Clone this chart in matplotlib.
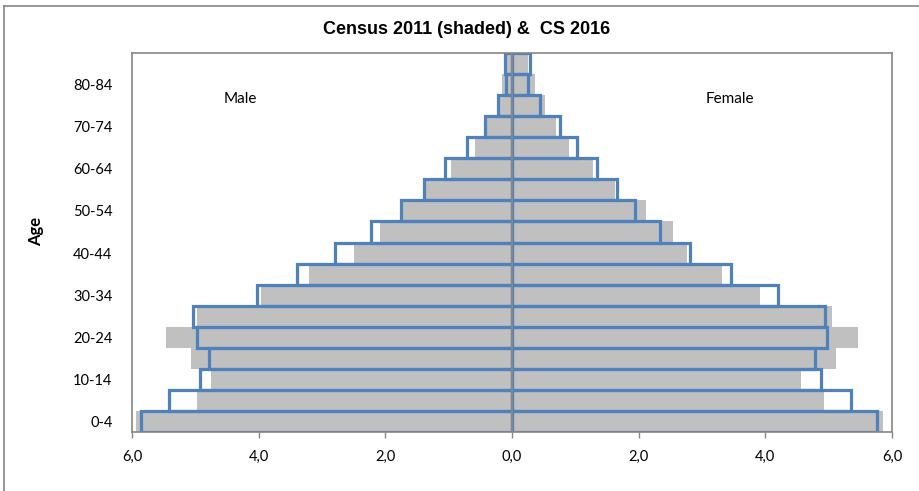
import matplotlib.pyplot as plt
import numpy as np
from matplotlib.lines import Line2D

ages = ['0-4', '5-9', '10-14', '15-19', '20-24', '25-29', '30-34', '35-39',
        '40-44', '45-49', '50-54', '55-59', '60-64', '65-69', '70-74',
        '75-79', '80-84', '85+']

# Census 2011 (shaded), percent of population
male_2011 = [5.93, 4.97, 4.75, 5.07, 5.46, 4.98, 3.97, 3.21, 2.49, 2.08,
             1.72, 1.35, 0.97, 0.58, 0.39, 0.20, 0.15, 0.08]
female_2011 = [5.86, 4.92, 4.57, 5.11, 5.47, 5.05, 3.91, 3.31, 2.76, 2.55,
               2.11, 1.62, 1.28, 0.90, 0.70, 0.52, 0.37, 0.25]

# CS 2016 (outlined)
male_2016 = [5.86, 5.42, 4.92, 4.79, 4.98, 5.04, 4.03, 3.39, 2.79, 2.23,
             1.75, 1.39, 1.05, 0.71, 0.43, 0.22, 0.10, 0.105]
female_2016 = [5.76, 5.36, 4.88, 4.78, 4.97, 4.95, 4.20, 3.46, 2.81, 2.34,
               1.95, 1.66, 1.345, 1.02, 0.755, 0.44, 0.26, 0.28]

xticks = [-6, -4, -2, 0, 2, 4, 6]
xlabels = ['6,0', '4,0', '2,0', '0,0', '2,0', '4,0', '6,0']

gray = '#C0C0C0'
blue = '#4F81BD'
axis_col = '#868686'

fig = plt.figure(figsize=(9.2, 4.91), dpi=100)
ax = fig.add_axes([132 / 920, 1 - 432 / 491, 760 / 920, 379 / 491])

y = np.arange(len(ages))
ax.barh(y, -np.array(male_2011), height=1.0, color=gray, zorder=1)
ax.barh(y, female_2011, height=1.0, color=gray, zorder=1)
ax.barh(y, -np.array(male_2016), height=1.0, fill=False, edgecolor=blue,
        linewidth=2.3, zorder=2)
ax.barh(y, female_2016, height=1.0, fill=False, edgecolor=blue,
        linewidth=2.3, zorder=2)
ax.axvline(0, color=axis_col, linewidth=1.5, zorder=3)

ax.set_xlim(-6, 6)
ax.set_ylim(-0.5, len(ages) - 0.5)
ax.set_xticks(xticks)
ax.set_xticklabels(xlabels, fontfamily='Lato', fontsize=10.5)
ax.set_yticks(y[::2])
ax.set_yticklabels(ages[::2], fontfamily='Lato', fontsize=10.5)
ax.tick_params(axis='y', length=0, pad=14)
ax.tick_params(axis='x', length=4, width=1, color=axis_col, pad=9)
for s in ax.spines.values():
    s.set_color(axis_col)
    s.set_linewidth(1.2)

ax.text(240 / 920, 1 - 99 / 491, 'Male', transform=fig.transFigure,
        ha='center', va='center', fontfamily='Lato', fontsize=11)
ax.text(730 / 920, 1 - 99 / 491, 'Female', transform=fig.transFigure,
        ha='center', va='center', fontfamily='Lato', fontsize=11)
fig.text(36 / 920, 1 - 231 / 491, 'Age', rotation=90, ha='center',
         va='center', fontfamily='Lato', fontweight='bold', fontsize=12)
fig.text(467 / 920, 1 - 30 / 491, 'Census 2011 (shaded) &  CS 2016',
         ha='center', va='center', fontfamily='Liberation Sans',
         fontweight='bold', fontsize=13)

# outer chart border
fig.add_artist(Line2D([4 / 920, 1.0], [1 - 5.5 / 491] * 2, color=axis_col,
                      linewidth=1.2, transform=fig.transFigure))
fig.add_artist(Line2D([4 / 920] * 2, [0.0, 1 - 5.5 / 491], color=axis_col,
                      linewidth=1.2, transform=fig.transFigure))

fig.savefig('out.png', dpi=100)
